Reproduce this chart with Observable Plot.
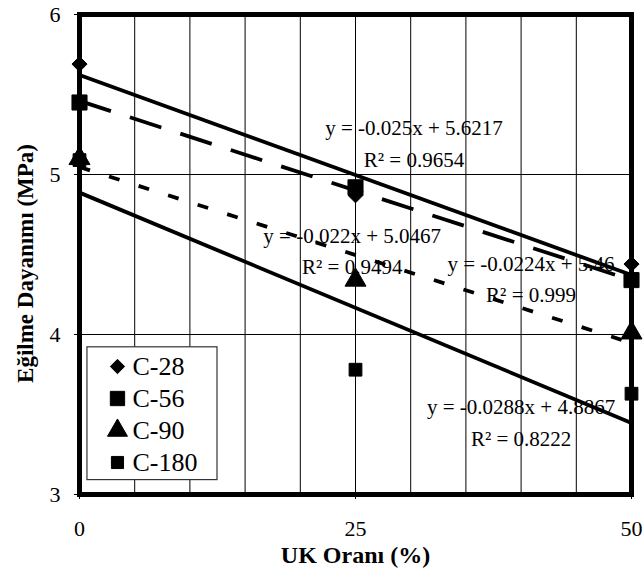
<!DOCTYPE html>
<html>
<head>
<meta charset="utf-8">
<script src="https://cdn.jsdelivr.net/npm/d3@7"></script>
<script src="https://cdn.jsdelivr.net/npm/@observablehq/plot@0.6"></script>
<style>
  html, body { margin: 0; padding: 0; background: #fff; }
</style>
</head>
<body>
<div id="chart"></div>
<script>
// ---- data ----
const xs = [0, 25, 50];
const series = ["C-28", "C-56", "C-90", "C-180"];
const c28 = [5.69, 4.87, 4.44];
const c56 = [5.45, 4.92, 4.34];
const c90 = [5.10, 4.34, 4.01];
const c180 = [5.09, 3.78, 3.63];
const slopes = [-0.025, -0.0224, -0.022, -0.0288];
const intercepts = [5.6217, 5.46, 5.0467, 4.8867];
const eqText = ["y = -0.025x + 5.6217", "y = -0.0224x + 5.46", "y = -0.022x + 5.0467", "y = -0.0288x + 4.8867"];
const r2Text = ["R² = 0.9654", "R² = 0.999", "R² = 0.9494", "R² = 0.8222"];
const eqX = [30.3, 40.9, 24.7, 40.0];
const eqY = [5.286, 4.436, 4.617, 3.548];
const r2Y = [5.086, 4.244, 4.423, 3.348];
const xTicks = [0, 25, 50];
const yTicks = [3, 4, 5, 6];
const xGrid = [5, 10, 15, 20, 25, 30, 35, 40, 45];
const yGrid = [4, 5];
const legendY = [3.8, 3.6, 3.4, 3.2];
const legendBox = {x1: 0.72, x2: 12.5, y1: 3.09, y2: 3.92};
const legendSymX = 3.44;
const legendTextX = 4.8;

// ---- styling ----
const symbols = ["diamond2", "square", "triangle", "square"];
const radii = [6.8, 8.5, 7.8, 7.2];
const dashes = [null, "33,20", "11,20", null];

const values = [c28, c56, c90, c180];
const points = series.flatMap((s, i) => xs.map((x, j) => ({series: s, i, x, y: values[i][j]})));
const trends = series.map((s, i) => [
  {series: s, x: xs[0], y: intercepts[i] + slopes[i] * xs[0]},
  {series: s, x: xs[xs.length - 1], y: intercepts[i] + slopes[i] * xs[xs.length - 1]}
]);
const labels = series.map((s, i) => ({eq: eqText[i], r2: r2Text[i], x: eqX[i], y: eqY[i], y2: r2Y[i]}));
const legend = series.map((s, i) => ({s, i, y: legendY[i]}));

const marks = [
  Plot.ruleX(xGrid, {stroke: "#000", strokeWidth: 1}),
  Plot.ruleY(yGrid, {stroke: "#000", strokeWidth: 1}),
  ...trends.map((t, i) => Plot.line(t, {
    x: "x", y: "y", stroke: "#000", strokeWidth: 3.8,
    strokeDasharray: dashes[i] || undefined, strokeLinecap: "butt"
  })),
  Plot.frame({stroke: "#000", strokeWidth: 5}),
  Plot.axisY({ticks: yTicks, tickSize: 5, tickPadding: 14, label: null, fontSize: 22, tickFormat: d => d}),
  Plot.axisX({ticks: xTicks, tickSize: 5, tickPadding: 21, label: null, fontSize: 22, tickFormat: d => d}),
  ...series.map((s, i) => Plot.dot(points.filter(p => p.i === i), {
    x: "x", y: "y", symbol: () => symbols[i], r: radii[i], fill: "#000", stroke: "#000", strokeWidth: 1
  })),
  Plot.text(labels, {x: "x", y: "y", text: "eq", fontSize: 21, fill: "#000"}),
  Plot.text(labels, {x: "x", y: "y2", text: "r2", fontSize: 21, fill: "#000"}),
  // legend
  Plot.rect([legendBox], {x1: "x1", x2: "x2", y1: "y1", y2: "y2", fill: "#fff", stroke: "#333", strokeWidth: 1.2}),
  ...legend.map(d => Plot.dot([d], {
    x: () => legendSymX, y: "y", symbol: () => symbols[d.i], r: radii[d.i] * 0.95, fill: "#000", stroke: "#000", strokeWidth: 1
  })),
  Plot.text(legend, {x: () => legendTextX, y: "y", text: "s", textAnchor: "start", fontSize: 26, fill: "#000"}),
  // axis titles
  Plot.text(["Eğilme Dayanımı (MPa)"], {frameAnchor: "left", textAnchor: "middle", lineAnchor: "middle", dx: -54, dy: 9, rotate: -90, fontWeight: "bold", fontSize: 23, fill: "#000"}),
  Plot.text(["UK Oranı (%)"], {frameAnchor: "bottom", textAnchor: "middle", lineAnchor: "middle", dy: 61, fontWeight: "bold", fontSize: 24, fill: "#000"})
];

const chart = Plot.plot({
  width: 643,
  height: 574,
  marginLeft: 79,
  marginRight: 12,
  marginTop: 14,
  marginBottom: 80,
  x: {domain: [0, 50]},
  y: {domain: [3, 6]},
  style: {fontFamily: "'Liberation Serif', 'Times New Roman', serif", fontSize: "22px", background: "#fff", color: "#000"},
  marks
});
document.getElementById("chart").appendChild(chart);
</script>
</body>
</html>
